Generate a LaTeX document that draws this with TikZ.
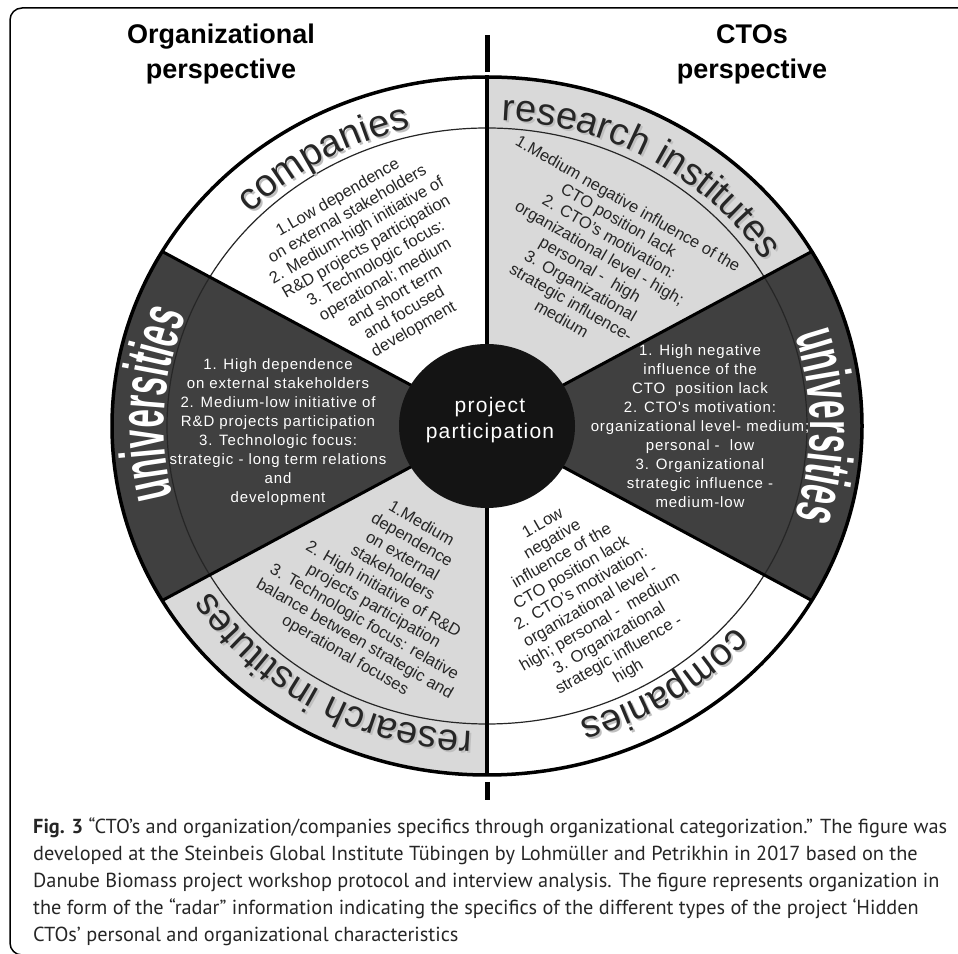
\documentclass[tikz,border=0pt]{standalone}
\usepackage{fontspec}
\setmainfont{Liberation Sans}
\newfontfamily\capfont{PT Sans}
\newfontfamily\trackfont[LetterSpace=6]{Liberation Sans}
\newfontfamily\unifont[FakeStretch=0.52]{Liberation Sans Bold}
\usetikzlibrary{decorations.text}

\definecolor{lightsec}{gray}{0.85}
\definecolor{darksec}{gray}{0.25}
\definecolor{hubgray}{gray}{0.08}

\newcommand{\ringfont}{\fontsize{38}{40}\selectfont}
\newcommand{\unilabel}{\unifont\fontsize{64}{66}\selectfont}

\begin{document}
\begin{tikzpicture}[x=1pt,y=1pt, % one unit = one pixel of the reference
  lightbody/.style={font=\fontsize{16.5}{19}\selectfont, align=center, text=black!85, inner sep=0pt},
  darkbody/.style={font=\trackfont\fontsize{15}{19}\selectfont, align=center, text=white, inner sep=0pt},
  headline/.style={font=\bfseries\fontsize{27}{35}\selectfont, align=center},
  hubtext/.style={font=\trackfont\fontsize{21}{26}\selectfont, align=center, text=white},
  captext/.style={font=\capfont\fontsize{20.3}{27}\selectfont, align=left, text=black!85, inner sep=0pt},
  bandlabel/.style={decorate, decoration={text along path, text align=center, text={#1}}},
  secline/.style={line width=3pt},
]
\useasboundingbox (0,0) rectangle (958,953);
\clip (0,0) rectangle (958,953);

% frame
\draw[line width=1.5pt, rounded corners=12pt] (990,945) -- (10,945) -- (10,-2) -- (990,-2);

% headings
\node[headline] (orghead) at (221,899) {Organizational\\perspective};
\node[headline] (ctohead) at (752,899) {CTOs\\perspective};

\begin{scope}[shift={(487,527)}]
% sectors
\foreach \a/\col in {90/white,150/darksec,210/lightsec,270/white,330/darksec,30/lightsec}
  \fill[\col] (0,0) -- (\a:375 and 349) arc[start angle=\a, delta angle=60, x radius=375, y radius=349] -- cycle;
\draw[line width=1.2pt, black!85] (0,0) ellipse[x radius=320, y radius=298]; % inner ring
\foreach \a in {30,150,210,330}
  \draw[secline] (0,0) -- (\a:375 and 349);
\draw[line width=4pt] (0,349) -- (0,-349); % divider
\draw[line width=5pt] (0,354) -- (0,391);
\draw[line width=5pt] (0,-356) -- (0,-374);
\draw[line width=3.5pt] (0,0) ellipse[x radius=375, y radius=349];
\fill[hubgray] (0,0) ellipse[x radius=88, y radius=82];

% band labels (grey copy = shadow)
\path[bandlabel={|\ringfont\color{black!25}|companies}, xshift=2, yshift=-2] (150:329 and 306) arc[start angle=150, end angle=90, x radius=329, y radius=306];
\path[bandlabel={|\ringfont\color{black!85}|companies}] (150:329 and 306) arc[start angle=150, end angle=90, x radius=329, y radius=306];
\path[bandlabel={|\ringfont\color{black!25}|research institutes}, xshift=2, yshift=-2] (90:329 and 306) arc[start angle=90, end angle=30, x radius=329, y radius=306];
\path[bandlabel={|\ringfont\color{black!85}|research institutes}] (90:329 and 306) arc[start angle=90, end angle=30, x radius=329, y radius=306];
\path[bandlabel={|\unilabel\color{white}|universities}] (30:323 and 300) arc[start angle=30, end angle=-30, x radius=323, y radius=300];
\path[bandlabel={|\ringfont\color{black!25}|companies}, xshift=2, yshift=-2] (333:329 and 306) arc[start angle=333, end angle=273, x radius=329, y radius=306];
\path[bandlabel={|\ringfont\color{black!85}|companies}] (333:329 and 306) arc[start angle=333, end angle=273, x radius=329, y radius=306];
\path[bandlabel={|\ringfont\color{black!25}|research institutes}, xshift=2, yshift=-2] (270:329 and 306) arc[start angle=270, end angle=210, x radius=329, y radius=306];
\path[bandlabel={|\ringfont\color{black!85}|research institutes}] (270:329 and 306) arc[start angle=270, end angle=210, x radius=329, y radius=306];
\path[bandlabel={|\unilabel\color{white}|universities}] (206:323 and 300) arc[start angle=206, end angle=146, x radius=323, y radius=300];
\end{scope}

% sector texts
\node[lightbody, rotate=30] (compA) at (376,689) {1.Low dependence\\on external stakeholders\\2. Medium-high initiative of\\R\&D projects participation\\3. Technologic focus:\\operational; medium\\and short term\\and focused\\development};
\node[lightbody, rotate=-30] (resA) at (595,692) {1.Medium negative influence of the\\CTO position lack\\2. CTO's motivation:\\organizational level - high;\\personal - \ high\\3. Organizational\\strategic influence-\\medium};
\node[darkbody] (uniA) at (700,527) {1. High negative\\influence of the\\CTO \ position lack\\2. CTO's motivation:\\organizational level- medium;\\personal - \ low\\3. Organizational\\strategic influence -\\medium-low};
\node[lightbody, rotate=30] (compB) at (586,355) {1.Low\\negative\\influence of the\\CTO position lack\\2. CTO's motivation:\\organizational level -\\high; personal - \ medium\\3. Organizational\\strategic influence -\\high};
\node[lightbody, rotate=-30] (resB) at (383,363) {1.Medium\\dependence\\on external\\stakeholders\\2. High initiative of R\&D\\projects participation\\3. Technologic focus: relative\\balance between strategic and\\operational focuses};
\node[darkbody] (uniB) at (278,521) {1. High dependence\\on external stakeholders\\2. Medium-low initiative of\\R\&D projects participation\\3. Technologic focus:\\strategic - long term relations\\and\\development};
\node[hubtext] (hub) at (490,533) {project\\participation};

% caption (anchored at the baseline of its last line)
\node[captext, anchor=base west] (caption) at (33,12) {\textbf{Fig. 3} “CTO’s and organization/companies specifics through organizational categorization.” The figure was\\developed at the Steinbeis Global Institute Tübingen by Lohmüller and Petrikhin in 2017 based on the\\Danube Biomass project workshop protocol and interview analysis. The figure represents organization in\\the form of the “radar” information indicating the specifics of the different types of the project ‘Hidden\\CTOs’ personal and organizational characteristics};
\end{tikzpicture}
\end{document}
